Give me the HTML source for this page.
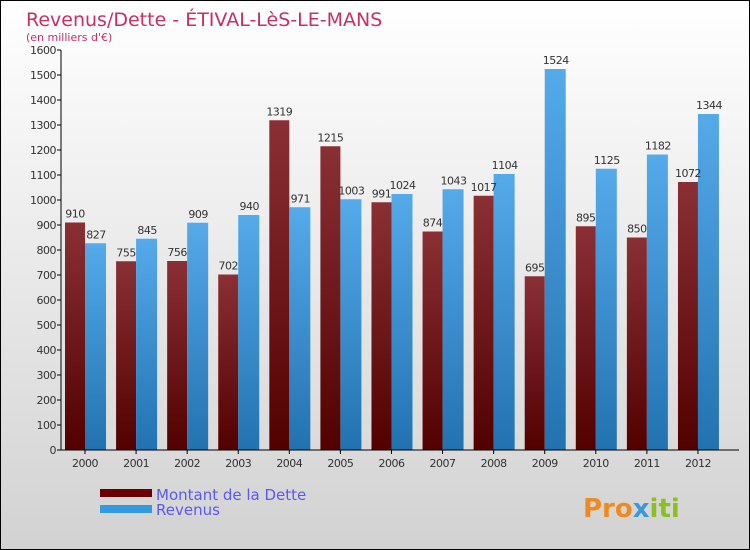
<!DOCTYPE html>
<html><head><meta charset="utf-8"><style>
body{margin:0}
#c{position:relative;width:748px;height:548px;border:1px solid #000;background:linear-gradient(#ffffff,#d2d2d2);font-family:"DejaVu Sans","Liberation Sans",sans-serif;overflow:hidden}
</style></head><body>
<div id="c">
<svg id="s" width="748" height="548">
<defs>
<linearGradient id="gd" x1="0" y1="0" x2="0" y2="1"><stop offset="0" stop-color="#8a3035"/><stop offset="1" stop-color="#520000"/></linearGradient>
<linearGradient id="gr" x1="0" y1="0" x2="0" y2="1"><stop offset="0" stop-color="#55aaea"/><stop offset="1" stop-color="#2272b0"/></linearGradient>
</defs>
<text x="25" y="25" font-size="19" fill="#c8305f">Revenus/Dette - ÉTIVAL-LèS-LE-MANS</text>
<text x="25" y="40" font-size="11" fill="#c8305f">(en milliers d'€)</text>
<g id="g"></g>
<rect x="99" y="488" width="52" height="8" fill="#6a0000"/>
<rect x="99" y="504" width="52" height="8" fill="#3399e0"/>
<text x="155" y="499" font-size="15" fill="#5a5af0">Montant de la Dette</text>
<text x="155" y="514" font-size="15" fill="#5a5af0">Revenus</text>
<text x="582" y="516" font-size="26" font-weight="bold" fill="#f08a20">Pro<tspan fill="#3a9ad8">x</tspan><tspan fill="#8ac020">iti</tspan></text>
</svg></div>
<script>
const years=["2000","2001","2002","2003","2004","2005","2006","2007","2008","2009","2010","2011","2012"];
const dette=[910,755,756,702,1319,1215,991,874,1017,695,895,850,1072];
const revenus=[827,845,909,940,971,1003,1024,1043,1104,1524,1125,1182,1344];
const yTicks=[0,100,200,300,400,500,600,700,800,900,1000,1100,1200,1300,1400,1500,1600];
const NS="http://www.w3.org/2000/svg";
const g=document.getElementById('g');
const y=v=>449-v*0.25;
const xc=i=>84+i*51.08;
function el(t,a,txt){const e=document.createElementNS(NS,t);for(const k in a)e.setAttribute(k,a[k]);if(txt!==undefined)e.textContent=txt;g.appendChild(e);return e;}
yTicks.forEach(t=>{
 const l=el('line',{x1:56,x2:60,y1:y(t),y2:y(t),stroke:'#000'});
 
 
 const tx=el('text',{x:55,y:y(t)+4,'font-size':11,'text-anchor':'end',fill:'#333','letter-spacing':'-0.5'},t);
 
 
});
years.forEach((yr,i)=>{
 const c=xc(i);
 const b1=el('rect',{x:c-20,y:y(dette[i]),width:20,height:dette[i]*0.25,fill:'url(#gd)'});
 
 
 const b2=el('rect',{x:c,y:y(revenus[i]),width:21,height:revenus[i]*0.25,fill:'url(#gr)'});
 
 
 const v1=el('text',{x:c-10,y:y(dette[i])-5,'font-size':11,'text-anchor':'middle',fill:'#333','letter-spacing':'-0.5'},dette[i]);
 
 
 const v2=el('text',{x:c+11,y:y(revenus[i])-5,'font-size':11,'text-anchor':'middle',fill:'#333','letter-spacing':'-0.5'},revenus[i]);
 
 
 const tk=el('line',{x1:c,x2:c,y1:449,y2:453,stroke:'#000'});
 
 
 const xl=el('text',{x:c,y:466,'font-size':11,'text-anchor':'middle',fill:'#333','letter-spacing':'-0.5'},yr);
 
 
});
const ya=el('line',{x1:60,x2:60,y1:49,y2:449,stroke:'#000'});


const xa=el('line',{x1:60,x2:738,y1:449,y2:449,stroke:'#000'});


</script>
</body></html>
